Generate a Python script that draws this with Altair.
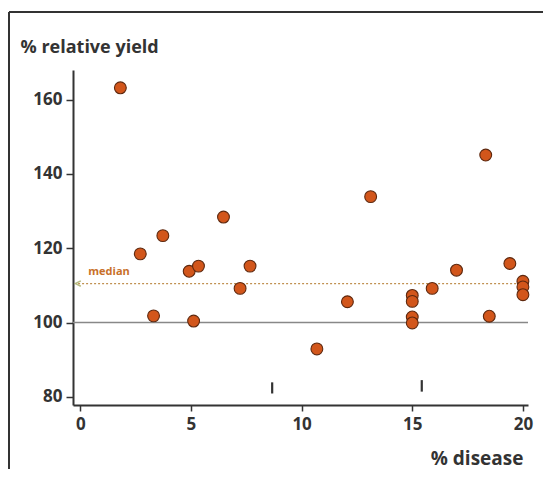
import altair as alt
import pandas as pd

disease = [1.81, 2.71, 3.31, 3.73, 4.92, 5.12, 5.34, 6.47, 7.22, 7.67,
           10.69, 12.07, 13.12, 15.0, 15.0, 15.0, 15.0, 15.9, 17.0, 18.32,
           18.48, 19.41, 20.0, 20.0, 20.0]
yield_ = [163.2, 118.5, 101.8, 123.4, 113.8, 100.4, 115.2, 128.4, 109.2, 115.2,
          92.9, 105.6, 133.9, 107.3, 105.7, 101.5, 99.9, 109.2, 114.1, 145.1,
          101.7, 115.9, 111.1, 109.6, 107.5]
median_value = 110.5
reference_value = 100
marker_x = [8.67, 15.43]
marker_top = [83.9, 84.5]
marker_bottom = [80.9, 81.4]

pts = pd.DataFrame({"d": disease, "y": yield_})
med = pd.DataFrame({"x0": [-0.1], "x1": [20.23], "y": [median_value]})
ref = pd.DataFrame({"x0": [-0.33], "x1": [20.23], "y": [reference_value]})
marks = pd.DataFrame({"x": marker_x, "y0": marker_top, "y1": marker_bottom})
lab = pd.DataFrame({"x": [0.36], "y": [113.6], "t": ["median"]})

xs = alt.Scale(domain=[-0.33, 20.23], nice=False, zero=False)
ys = alt.Scale(domain=[77.8, 168], nice=False, zero=False)

font = "Open Sans"
xaxis = alt.Axis(values=[0, 5, 10, 15, 20], grid=False, domainColor="#333333", domainWidth=2,
                 tickColor="#333333", tickWidth=1.5, tickSize=6, labelPadding=5,
                 labelFont=font, labelFontSize=17, labelFontWeight="bold", labelColor="#333333",
                 title="% disease", titleFont=font, titleFontSize=19, titleFontWeight="bold",
                 titleColor="#333333", titleAlign="right", titleX=450, titleY=59,
                 titleBaseline="alphabetic")
yaxis = alt.Axis(values=[80, 100, 120, 140, 160], grid=False, domainColor="#333333", domainWidth=2,
                 tickColor="#333333", tickWidth=1.5, tickSize=7, labelPadding=4,
                 labelFont=font, labelFontSize=17, labelFontWeight="bold", labelColor="#333333",
                 title="% relative yield", titleFont=font, titleFontSize=18, titleFontWeight="bold",
                 titleColor="#333333", titleAngle=0, titleAlign="left", titleX=-53, titleY=-23,
                 titleBaseline="middle")

refline = alt.Chart(ref).mark_rule(color="#888888", strokeWidth=1.5).encode(
    x=alt.X("x0:Q", scale=xs, axis=xaxis), x2="x1:Q",
    y=alt.Y("y:Q", scale=ys, axis=yaxis))
medline = alt.Chart(med).mark_rule(color="#c09050", strokeWidth=1.2, strokeDash=[2, 2]).encode(
    x=alt.X("x0:Q", scale=xs), x2="x1:Q", y=alt.Y("y:Q", scale=ys))
arrow = alt.Chart(med).mark_point(shape="M1,-1L-1,0L1,1", filled=False, color="#9aa050",
                                  size=30, strokeWidth=1.5).encode(
    x=alt.X("x0:Q", scale=xs), y=alt.Y("y:Q", scale=ys))
medtext = alt.Chart(lab).mark_text(align="left", baseline="middle", font=font, fontSize=11,
                                   fontWeight="bold", color="#c8702a").encode(
    x=alt.X("x:Q", scale=xs), y=alt.Y("y:Q", scale=ys), text="t:N")
markers = alt.Chart(marks).mark_rule(color="#333333", strokeWidth=2.2).encode(
    x=alt.X("x:Q", scale=xs), y=alt.Y("y0:Q", scale=ys), y2="y1:Q")
points = alt.Chart(pts).mark_circle(size=140, color="#d2561b", opacity=1,
                                    stroke="#5e280e", strokeWidth=1.1).encode(
    x=alt.X("d:Q", scale=xs), y=alt.Y("y:Q", scale=ys))

frame_top = alt.Chart(pts).mark_rule(color="#333333", strokeWidth=2).encode(
    x=alt.value(-64), x2=alt.value(470), y=alt.value(-58))
frame_left = alt.Chart(pts).mark_rule(color="#333333", strokeWidth=2).encode(
    x=alt.value(-64), y=alt.value(-58), y2=alt.value(400))

chart = alt.layer(refline, medline, arrow, medtext, markers, points, frame_top, frame_left).properties(
    width=455, height=335,
    padding={"left": 65, "top": 62, "right": 15, "bottom": 64},
    autosize=alt.AutoSizeParams(type="none"),
).configure_view(stroke=None)

chart.save("out.html", embed_options={"renderer": "svg", "actions": False})
